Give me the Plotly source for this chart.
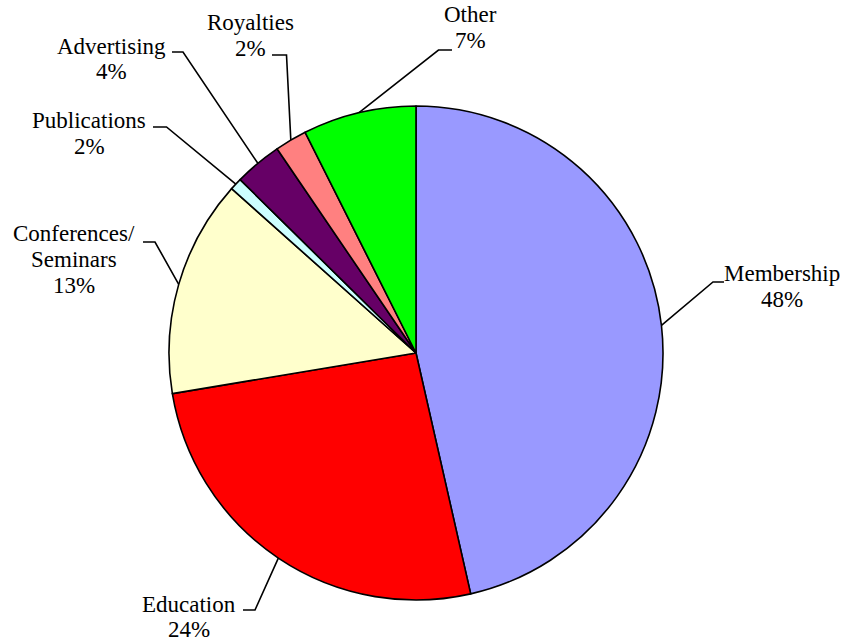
import math
import plotly.graph_objects as go

# ---- data ----
categories = ["Membership", "Education", "Conferences/Seminars", "Publications",
              "Advertising", "Royalties", "Other"]
values = [46.4, 25.9, 14.2, 0.8, 3.1, 2.1, 7.4]
label_lines = [["Membership", "48%"], ["Education", "24%"],
               ["Conferences/", "Seminars", "13%"], ["Publications", "2%"],
               ["Advertising", "4%"], ["Royalties", "2%"], ["Other", "7%"]]
colors = ["#9999FF", "#FF0000", "#FFFFCC", "#CCFFFF", "#660066", "#FF8080", "#00FF00"]

# ---- layout (pixels) ----
W, H = 850, 642
CX, CY, R = 416, 353, 247
LINE_H = 25.5
FONT = dict(family="Liberation Serif, Times New Roman, serif", size=23, color="black")
# label centre x, first line centre y, elbow x, elbow y, horizontal end x
label_pos = [
    (782, 274, 713, 282, 724),
    (188.5, 604, 255, 610, 243),
    (74, 234, 155, 242, 143),
    (89, 120.5, 166.5, 127, 153),
    (111, 46, 183, 52, 172),
    (250, 22.5, 286.5, 55, 272),
    (470, 15, 438.5, 50, 452),
]

def px(x):
    return x / W

def py(y):
    return 1 - y / H

fig = go.Figure(go.Pie(
    labels=categories, values=values, sort=False, direction="clockwise",
    rotation=0, marker=dict(colors=colors, line=dict(color="black", width=1.6)),
    textinfo="none", hoverinfo="label+percent", showlegend=False,
    domain=dict(x=[px(CX - R), px(CX + R)], y=[py(CY + R), py(CY - R)]),
))

total = sum(values)
cum = 0.0
shapes, annotations = [], []
for i, v in enumerate(values):
    mid = (cum + v / 2) / total * 2 * math.pi
    cum += v
    sx = CX + R * math.sin(mid)
    sy = CY - R * math.cos(mid)
    lx, ly, ex, ey, hx = label_pos[i]
    path = "M {:.5f},{:.5f} L {:.5f},{:.5f} L {:.5f},{:.5f}".format(
        px(sx), py(sy), px(ex), py(ey), px(hx), py(ey))
    shapes.append(dict(type="path", path=path, xref="paper", yref="paper",
                       line=dict(color="black", width=1.6)))
    for j, t in enumerate(label_lines[i]):
        annotations.append(dict(text=t, x=px(lx), y=py(ly + j * LINE_H),
                                xref="paper", yref="paper", showarrow=False,
                                xanchor="center", yanchor="middle", font=FONT))

fig.update_layout(width=W, height=H, margin=dict(l=0, r=0, t=0, b=0),
                  paper_bgcolor="white", plot_bgcolor="white",
                  shapes=shapes, annotations=annotations)

fig.write_html("out.html", config={"displayModeBar": False},
               post_script="document.body.style.margin='0';")
